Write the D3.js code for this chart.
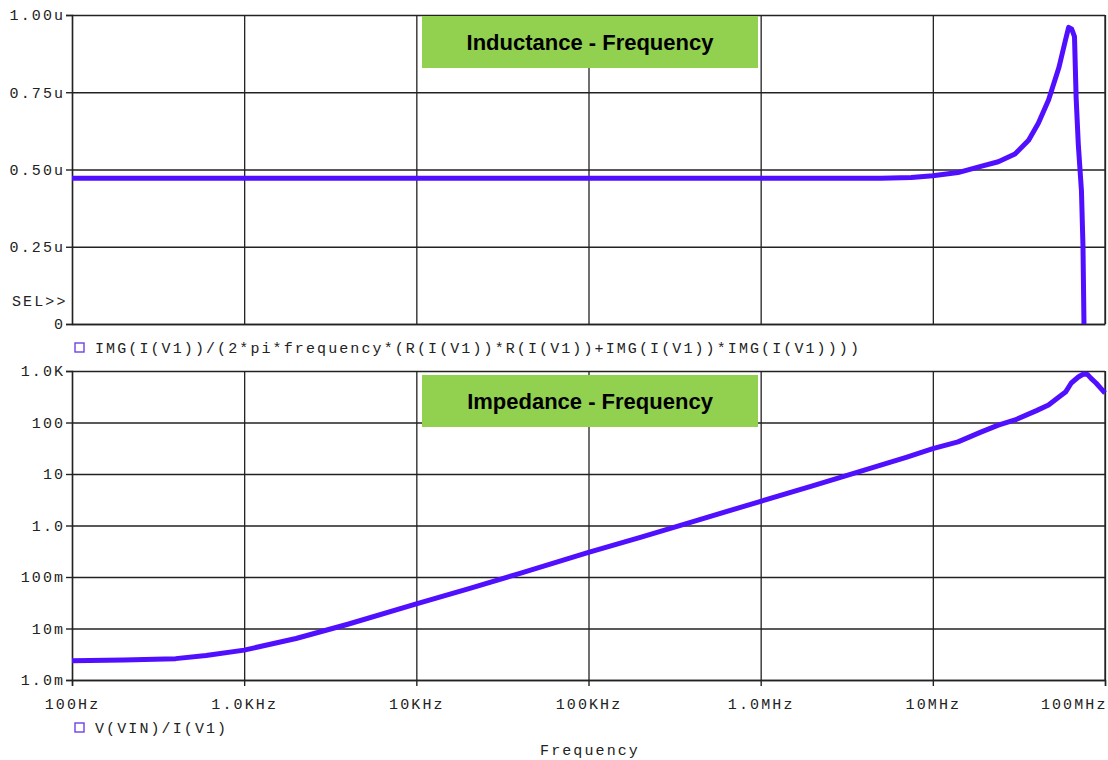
<head>
  <script src="https://cdnjs.cloudflare.com/ajax/libs/d3/7.8.5/d3.min.js"></script>
  <style>
    body { margin: 0; background: #fff }
    .mono { font-family: "Liberation Mono", "DejaVu Sans Mono", monospace; font-size: 15px; letter-spacing: 2.1px; fill: #222 }
    .axis path, .axis line { stroke: #222; stroke-width: 1.4 }
    .grid line { stroke: #222; stroke-width: 1.3 }
    .grid path { display: none }
  </style>
</head>

<body>
  <div id="chart"></div>

  <script>
    // x axis (shared)
    const xTicks = [1e2, 1e3, 1e4, 1e5, 1e6, 1e7, 1e8];
    const xLabels = ['100Hz', '1.0KHz', '10KHz', '100KHz', '1.0MHz', '10MHz', '100MHz'];

    // top plot: inductance (uH)
    const lTicks = [0, 0.25, 0.5, 0.75, 1.0];
    const lLabels = ['0', '0.25u', '0.50u', '0.75u', '1.00u'];
    const lFreq = [100, 1e3, 1e4, 1e5, 1e6, 5e6, 7.5e6, 10e6, 14e6, 19e6, 24e6, 30e6, 36e6, 41e6, 47e6, 54e6, 59e6, 61.5e6, 64e6, 66.5e6, 68e6, 70e6, 73e6, 74.5e6, 75.5e6];
    const lVal = [0.472, 0.472, 0.472, 0.472, 0.472, 0.472, 0.474, 0.48, 0.49, 0.51, 0.525, 0.55, 0.595, 0.65, 0.725, 0.83, 0.92, 0.96, 0.955, 0.93, 0.73, 0.58, 0.43, 0.25, 0];

    // bottom plot: impedance (ohm)
    const zTicks = [1e-3, 1e-2, 1e-1, 1, 10, 100, 1000];
    const zLabels = ['1.0m', '10m', '100m', '1.0', '10', '100', '1.0K'];
    const zFreq = [100, 200, 400, 600, 1e3, 2e3, 4e3, 1e4, 2e4, 4e4, 1e5, 2e5, 4e5, 1e6, 2e6, 4e6, 7e6, 10e6, 14e6, 19e6, 24e6, 30e6, 40e6, 47e6, 54e6, 59e6, 63.7e6, 70e6, 75e6, 79e6, 83e6, 88.7e6, 94e6, 100e6];
    const zVal = [2.36e-3, 2.45e-3, 2.6e-3, 3.0e-3, 3.8e-3, 6.4e-3, 12.1e-3, 30e-3, 59e-3, 118e-3, 0.3, 0.59, 1.18, 2.95, 5.9, 11.9, 21, 31, 42, 65, 89, 112, 170, 218, 312, 390, 585, 764, 875, 860, 720, 585, 470, 375];

    const width = 1108, height = 760;
    const left = 72, right = 1105;
    const color = '#5010ff';

    const svg = d3.select('#chart').append('svg')
      .attr('width', width)
      .attr('height', height);

    const x = d3.scaleLog().domain([1e2, 1e8]).range([left, right]);
    const yL = d3.scaleLinear().domain([0, 1]).range([324, 15]);
    const yZ = d3.scaleLog().domain([1e-3, 1e3]).range([680, 371]);

    function panel(y, ticks, labels, top, bottom, showX) {
      const g = svg.append('g');

      // horizontal grid
      g.append('g').attr('class', 'grid')
        .attr('transform', `translate(${left},0)`)
        .call(d3.axisLeft(y).tickValues(ticks).tickSize(-(right - left)).tickFormat(''));
      // vertical grid
      g.append('g').attr('class', 'grid')
        .attr('transform', `translate(0,${bottom})`)
        .call(d3.axisTop(x).tickValues(xTicks).tickSize(bottom - top).tickFormat(''));

      // right border
      g.append('line')
        .attr('x1', right).attr('x2', right).attr('y1', top).attr('y2', bottom)
        .attr('stroke', '#222').attr('stroke-width', 1.3);

      // y axis
      const ya = g.append('g').attr('class', 'axis')
        .attr('transform', `translate(${left},0)`)
        .call(d3.axisLeft(y).tickValues(ticks).tickSize(6).tickPadding(3)
          .tickFormat((d, i) => labels[i]));
      ya.selectAll('text').attr('class', 'mono').attr('dx', '2.1px');
      ya.attr('font-family', null).attr('font-size', null);

      // x axis
      const xa = g.append('g').attr('class', 'axis')
        .attr('transform', `translate(0,${bottom})`)
        .call(d3.axisBottom(x).tickValues(xTicks).tickSize(showX ? 6 : 0)
          .tickFormat((d, i) => showX ? xLabels[i] : ''));
      xa.attr('font-family', null).attr('font-size', null);
      xa.selectAll('text').attr('class', 'mono').attr('y', 18);
      xa.selectAll('.tick').filter((d, i) => i === xTicks.length - 1).select('text')
        .attr('text-anchor', 'end').attr('dx', 2);
      return g;
    }

    panel(yL, lTicks, lLabels, 15, 324, false);
    panel(yZ, zTicks, zLabels, 371, 680, true);

    // title boxes
    const titles = [['Inductance - Frequency', 16], ['Impedance - Frequency', 375]];
    titles.forEach(([t, y0]) => {
      svg.append('rect')
        .attr('x', 422).attr('y', y0).attr('width', 336).attr('height', 52)
        .attr('fill', '#92d050');
      svg.append('text')
        .attr('x', 590).attr('y', y0 + 34)
        .attr('text-anchor', 'middle')
        .attr('font-family', 'Liberation Sans, Arial, sans-serif')
        .attr('font-weight', 'bold').attr('font-size', 22)
        .attr('fill', '#000')
        .text(t);
    });

    // traces
    const lineL = d3.line().x(d => x(d[0])).y(d => yL(d[1]));
    const lineZ = d3.line().x(d => x(d[0])).y(d => yZ(d[1]));

    svg.append('path')
      .datum(lFreq.map((f, i) => [f, lVal[i]]))
      .attr('d', lineL)
      .attr('fill', 'none').attr('stroke', color)
      .attr('stroke-width', 5).attr('stroke-linejoin', 'round');

    svg.append('path')
      .datum(zFreq.map((f, i) => [f, zVal[i]]))
      .attr('d', lineZ)
      .attr('fill', 'none').attr('stroke', color)
      .attr('stroke-width', 5).attr('stroke-linejoin', 'round');

    // legends and labels
    const legends = [['IMG(I(V1))/(2*pi*frequency*(R(I(V1))*R(I(V1))+IMG(I(V1))*IMG(I(V1))))', 343],
                     ['V(VIN)/I(V1)', 723]];
    legends.forEach(([t, y0]) => {
      svg.append('rect')
        .attr('x', 75).attr('y', y0).attr('width', 9).attr('height', 9)
        .attr('fill', 'none').attr('stroke', '#7040e8').attr('stroke-width', 1.4);
      svg.append('text').attr('class', 'mono')
        .attr('x', 95).attr('y', y0 + 10)
        .text(t);
    });

    svg.append('text').attr('class', 'mono')
      .attr('x', 12).attr('y', 306)
      .text('SEL>>');

    svg.append('text').attr('class', 'mono')
      .attr('x', 590).attr('y', 755)
      .attr('text-anchor', 'middle')
      .text('Frequency');
  </script>
</body>
